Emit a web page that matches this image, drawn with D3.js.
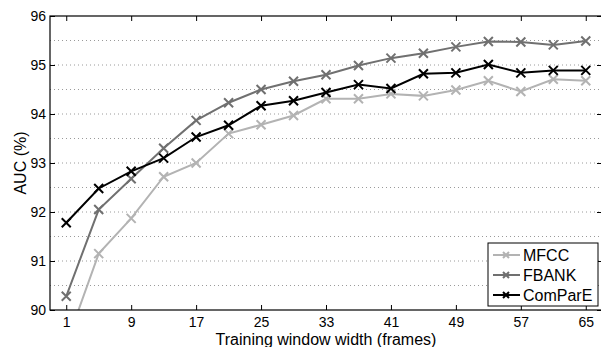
<!DOCTYPE html>
<html>
<head>
<meta charset="utf-8">
<script src="https://cdn.jsdelivr.net/npm/d3@7"></script>
<style>
  body { margin: 0; background: #fff; }
  text { font-family: "Liberation Sans", Arial, sans-serif; fill: #000; }
</style>
</head>
<body>
<div id="chart"></div>
<script>
// window widths (frames)
const frames = [1, 5, 9, 13, 17, 21, 25, 29, 33, 37, 41, 45, 49, 53, 57, 61, 65];
const mfcc    = [89.3, 91.15, 91.87, 92.72, 93.0, 93.6, 93.78, 93.97, 94.31, 94.31, 94.41, 94.37, 94.49, 94.68, 94.46, 94.71, 94.68];
const fbank   = [90.28, 92.05, 92.68, 93.3, 93.87, 94.23, 94.5, 94.67, 94.8, 94.99, 95.14, 95.24, 95.37, 95.48, 95.47, 95.41, 95.49];
const compare = [91.78, 92.48, 92.83, 93.1, 93.53, 93.77, 94.17, 94.27, 94.44, 94.6, 94.52, 94.82, 94.84, 95.01, 94.84, 94.89, 94.89];
const xTicks = [1, 9, 17, 25, 33, 41, 49, 57, 65];
const yTicks = [90, 91, 92, 93, 94, 95, 96];
const seriesNames = ['MFCC', 'FBANK', 'ComParE'];

const W = 601, H = 347;
const margin = {top: 16, right: -1, bottom: 37, left: 50};
const width = W - margin.left - margin.right;
const height = H - margin.top - margin.bottom;

const series = [
  {name: seriesNames[0], values: mfcc, color: '#b3b3b3'},
  {name: seriesNames[1], values: fbank, color: '#707070'},
  {name: seriesNames[2], values: compare, color: '#000'}
];

const svg = d3.select('#chart').append('svg')
    .attr('width', W)
    .attr('height', H);

const g = svg.append('g')
    .attr('transform', 'translate(' + margin.left + ',' + margin.top + ')');

const x = d3.scaleLinear().domain([-1, 67]).range([0, width]);
const y = d3.scaleLinear().domain([90, 96]).range([height, 0]);

// dotted grid every 0.5
const gridVals = d3.range(90.5, 96, 0.5);
g.append('g').selectAll('line')
    .data(gridVals)
  .enter().append('line')
    .attr('x1', 0).attr('x2', width)
    .attr('y1', d => y(d)).attr('y2', d => y(d))
    .attr('stroke', '#9a9a9a')
    .attr('stroke-width', 1)
    .attr('stroke-dasharray', '1,3');

// clip for lines
g.append('clipPath').attr('id', 'plot-clip')
  .append('rect').attr('width', width).attr('height', height);

const line = d3.line()
    .x((d, i) => x(frames[i]))
    .y(d => y(d));

const plot = g.append('g').attr('clip-path', 'url(#plot-clip)');

series.forEach(s => {
  plot.append('path')
      .datum(s.values)
      .attr('fill', 'none')
      .attr('stroke', s.color)
      .attr('stroke-width', 2)
      .attr('d', line);

  plot.append('g').selectAll('path')
      .data(s.values)
    .enter().append('path')
      .attr('d', (d, i) => {
        const cx = x(frames[i]), cy = y(d), r = 4.5;
        return 'M' + (cx - r) + ',' + (cy - r) + 'L' + (cx + r) + ',' + (cy + r) +
               'M' + (cx - r) + ',' + (cy + r) + 'L' + (cx + r) + ',' + (cy - r);
      })
      .attr('stroke', s.color)
      .attr('stroke-width', 2)
      .attr('fill', 'none');
});

// axes: ticks pointing inward on all four sides
g.append('g')
    .attr('transform', 'translate(0,' + height + ')')
    .call(d3.axisBottom(x).tickValues(xTicks).tickSizeInner(-5).tickSizeOuter(0).tickPadding(7))
    .call(a => a.select('.domain').remove());
g.append('g')
    .call(d3.axisTop(x).tickValues(xTicks).tickSizeInner(-5).tickSizeOuter(0).tickFormat(''))
    .call(a => a.select('.domain').remove());
g.append('g')
    .call(d3.axisLeft(y).tickValues(yTicks).tickSizeInner(-5).tickSizeOuter(0).tickPadding(4)
      .tickFormat(d3.format('d')))
    .call(a => a.select('.domain').remove());
g.append('g')
    .attr('transform', 'translate(' + width + ',0)')
    .call(d3.axisRight(y).tickValues(yTicks).tickSizeInner(-5).tickSizeOuter(0).tickFormat(''))
    .call(a => a.select('.domain').remove());

g.selectAll('.tick line').attr('stroke', '#000');
g.selectAll('.tick text')
    .style('font-size', '14px')
    .style('font-family', '"Liberation Sans", Arial, sans-serif');

g.append('rect')
    .attr('width', width).attr('height', height)
    .attr('fill', 'none')
    .attr('stroke', '#000')
    .attr('stroke-width', 1.2);

// axis labels
svg.append('text')
    .attr('x', margin.left + width / 2)
    .attr('y', 345)
    .attr('text-anchor', 'middle')
    .style('font-size', '16px')
    .text('Training window width (frames)');

svg.append('text')
    .attr('transform', 'translate(26,' + (margin.top + height / 2) + ') rotate(-90)')
    .attr('text-anchor', 'middle')
    .style('font-size', '16px')
    .text('AUC (%)');

// legend
const legend = svg.append('g').attr('transform', 'translate(488,243)');
legend.append('rect')
    .attr('width', 110).attr('height', 63)
    .attr('fill', '#fff')
    .attr('stroke', '#000')
    .attr('stroke-width', 1);

series.forEach((s, i) => {
  const ly = 12 + i * 20;
  legend.append('line')
      .attr('x1', 5).attr('x2', 32)
      .attr('y1', ly).attr('y2', ly)
      .attr('stroke', s.color).attr('stroke-width', 2);
  legend.append('path')
      .attr('d', 'M15,' + (ly - 3) + 'L21,' + (ly + 3) + 'M15,' + (ly + 3) + 'L21,' + (ly - 3))
      .attr('stroke', s.color).attr('stroke-width', 2);
  legend.append('text')
      .attr('x', 35).attr('y', ly + 6)
      .style('font-size', '16px')
      .text(s.name);
});
</script>
</body>
</html>
